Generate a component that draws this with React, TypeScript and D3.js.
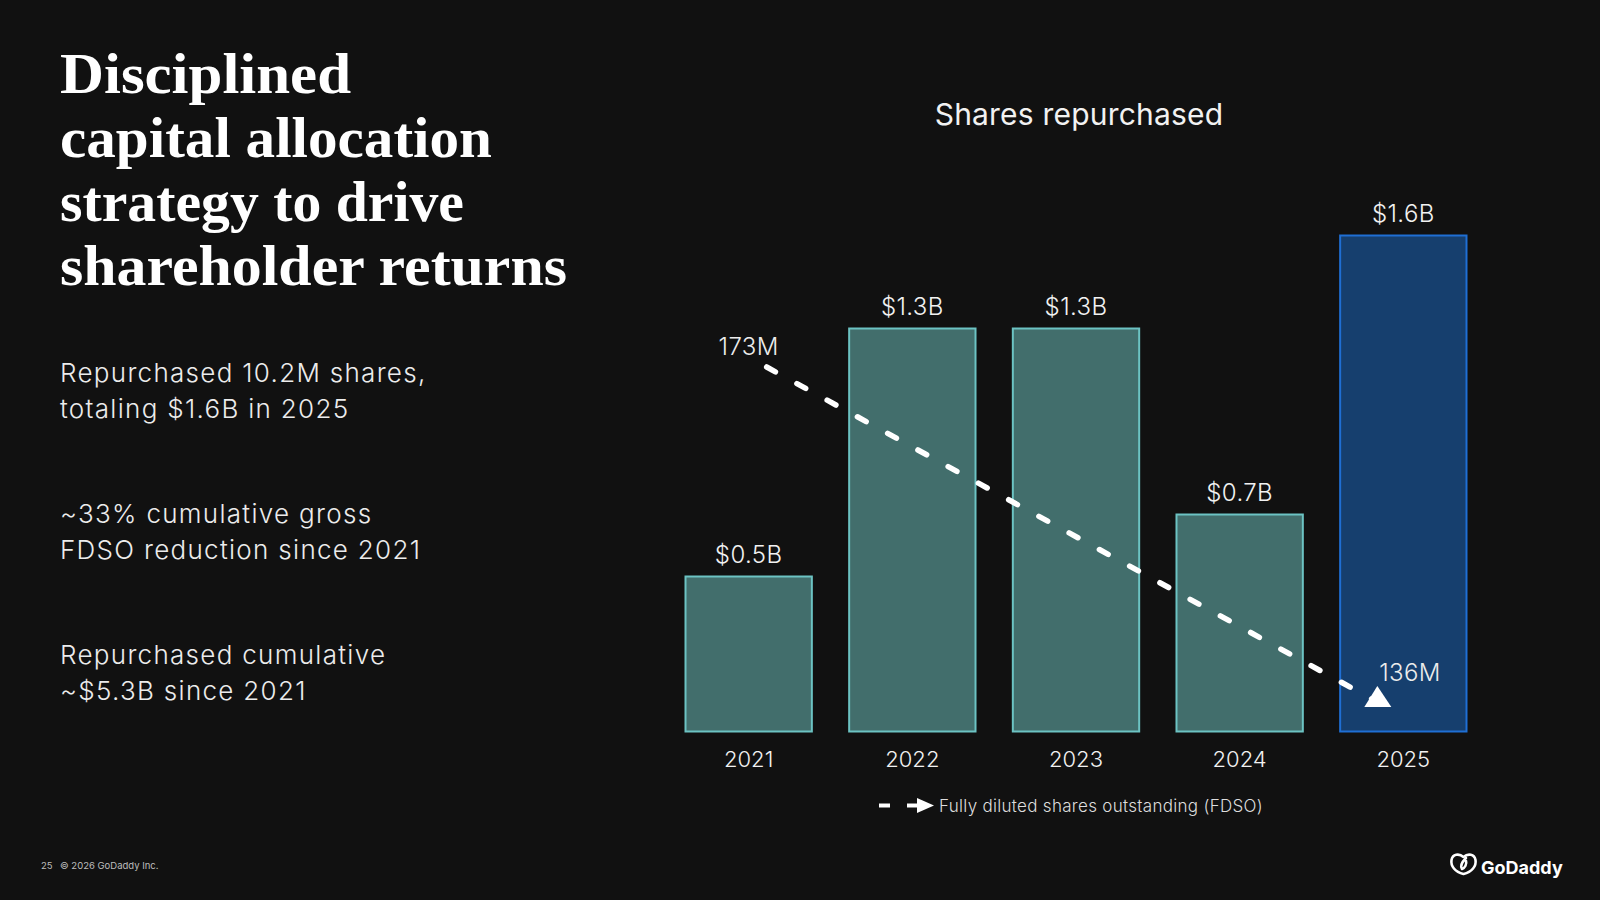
import React from 'react';
import * as d3 from 'd3';

// Shares repurchased per year, $B
const years = ['2021', '2022', '2023', '2024', '2025'];
const repurchased = [0.5, 1.3, 1.3, 0.7, 1.6];

// Fully diluted shares outstanding, millions (start and end of the trend arrow)
const fdsoYears = ['2021', '2025'];
const fdsoShares = [173, 136];

const headingLines = ['Disciplined', 'capital allocation', 'strategy to drive', 'shareholder returns'];
const headingWidths = [291, 432, 404, 507];

const bullets = [
  ['Repurchased 10.2M shares,', 'totaling $1.6B in 2025'],
  ['~33% cumulative gross', 'FDSO reduction since 2021'],
  ['Repurchased cumulative', '~$5.3B since 2021'],
];

const W = 1600;
const H = 900;
const sans = 'Inter, "Noto Sans", sans-serif';

const App = () => {
  const x = d3.scaleBand<string>()
    .domain(years)
    .range([685.5, 1466.5])
    .paddingInner(0.228)
    .paddingOuter(0);

  const y = d3.scaleLinear().domain([0, 1.6]).range([731.5, 235.5]);

  const yShares = d3.scaleLinear().domain([136, 173]).range([702, 367]);

  const bw = x.bandwidth();
  const cx = (yr: string) => (x(yr) as number) + bw / 2;

  const trend: [number, number][] = [
    [cx(fdsoYears[0]) + 18, yShares(fdsoShares[0])],
    [cx(fdsoYears[1]) - 26, yShares(fdsoShares[1])],
  ];
  const line = d3.line();
  const [ex, ey] = trend[1];

  return (
    <svg width={W} height={H} style={{ display: 'block', position: 'absolute', left: 0, top: 0 }}>
      <rect width={W} height={H} fill="#111111" />

      {/* heading */}
      {headingLines.map((t, i) => (
        <text
          key={t}
          x={60}
          y={93 + i * 64}
          fill="#ffffff"
          fontFamily='"Liberation Serif", "DejaVu Serif", serif'
          fontWeight={700}
          fontSize={58}
          textLength={headingWidths[i]}
          lengthAdjust="spacingAndGlyphs"
        >
          {t}
        </text>
      ))}

      {/* bullet copy */}
      {bullets.map((lines, i) =>
        lines.map((t, j) => (
          <text
            key={t}
            x={60}
            y={382 + i * 141 + j * 36}
            fill="#ececec"
            fontFamily={sans}
            fontWeight={300}
            fontSize={26}
            letterSpacing={1.3}
          >
            {t}
          </text>
        ))
      )}

      {/* chart title */}
      <text x={1079} y={125} textAnchor="middle" fill="#f2f2f2" fontFamily={sans} fontWeight={400} fontSize={30} letterSpacing={0.2}>
        Shares repurchased
      </text>

      {/* bars */}
      {years.map((yr, i) => {
        const last = i === years.length - 1;
        return (
          <g key={yr}>
            <rect
              x={x(yr)}
              y={y(repurchased[i])}
              width={bw}
              height={y(0) - y(repurchased[i])}
              fill={last ? '#163f6e' : '#426e6c'}
              stroke={last ? '#1f6fd4' : '#6cc3c3'}
              strokeWidth={2}
            />
            <text
              x={cx(yr)}
              y={y(repurchased[i]) - 14}
              textAnchor="middle"
              fill="#f2f2f2"
              fontFamily={sans}
              fontWeight={300}
              fontSize={24}
              letterSpacing={0.4}
            >
              {`$${repurchased[i].toFixed(1)}B`}
            </text>
            <text
              x={cx(yr)}
              y={767}
              textAnchor="middle"
              fill="#f2f2f2"
              fontFamily={sans}
              fontWeight={300}
              fontSize={22}
            >
              {yr}
            </text>
          </g>
        );
      })}

      {/* FDSO trend */}
      <path
        d={line(trend) as string}
        fill="none"
        stroke="#ffffff"
        strokeWidth={5.5}
        strokeLinecap="round"
        strokeDasharray="10 24.5"
      />
      <path d={`M${ex},${ey - 16}L${ex + 14},${ey + 5}L${ex - 13},${ey + 5}Z`} fill="#ffffff" />
      <text x={cx(fdsoYears[0])} y={355} textAnchor="middle" fill="#ececec" fontFamily={sans} fontWeight={300} fontSize={24} letterSpacing={0.4}>
        {`${fdsoShares[0]}M`}
      </text>
      <text x={1410} y={681} textAnchor="middle" fill="#ececec" fontFamily={sans} fontWeight={300} fontSize={24} letterSpacing={0.4}>
        {`${fdsoShares[1]}M`}
      </text>

      {/* legend */}
      <g>
        <line x1={879} x2={890} y1={805.5} y2={805.5} stroke="#ffffff" strokeWidth={4} />
        <line x1={907} x2={920} y1={805.5} y2={805.5} stroke="#ffffff" strokeWidth={4} />
        <path d="M917,798 L934,805.5 L917,813 Z" fill="#ffffff" />
        <text x={939} y={811.5} fill="#dddddd" fontFamily={sans} fontWeight={300} fontSize={17} letterSpacing={0.3}>
          Fully diluted shares outstanding (FDSO)
        </text>
      </g>

      {/* footer */}
      <text x={41} y={869} fill="#bdbdbd" fontFamily={sans} fontSize={9.5}>
        25
      </text>
      <text x={60} y={869} fill="#bdbdbd" fontFamily={sans} fontSize={9.5}>
        © 2026 GoDaddy Inc.
      </text>

      {/* logo */}
      <g fill="none" stroke="#ffffff" strokeWidth={2.6} strokeLinecap="round" strokeLinejoin="round">
        <path d="M1463.5,874 C1455,872 1450.5,866 1451.5,860 C1452.5,854 1459,853 1463.5,857 C1468,853 1474.5,854 1475.5,860 C1476.5,866 1472,872 1463.5,874 Z" />
        <path d="M1466,858 C1462,862 1460,866 1462,869 C1465,868 1467,864 1466,861" />
      </g>
      <text x={1481} y={874} fill="#ffffff" fontFamily={sans} fontWeight={700} fontSize={18}>
        GoDaddy
      </text>
    </svg>
  );
};

export default App;
